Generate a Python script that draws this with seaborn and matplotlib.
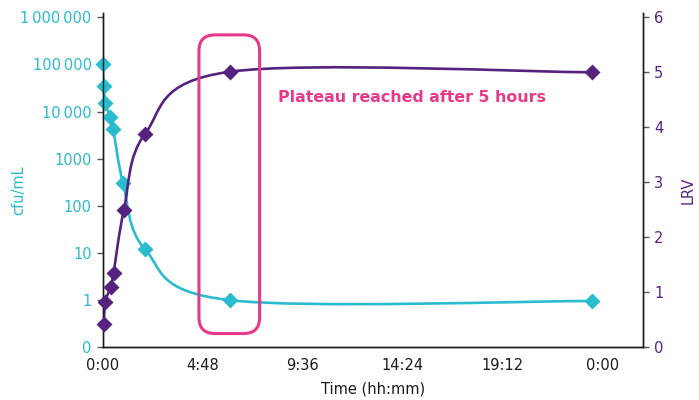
import numpy as np
import pandas as pd
import matplotlib
matplotlib.use("Agg")
import matplotlib.pyplot as plt
import seaborn as sns
from matplotlib.path import Path
from matplotlib.patches import PathPatch, FancyBboxPatch
from matplotlib.ticker import FixedLocator, FixedFormatter

# ---------------- data ----------------
time_cfu_h = [0.0, 0.05, 0.125, 0.36, 0.50, 0.98, 2.03, 6.10, 23.47]
cfu_per_ml = [100000, 35000, 15000, 7800, 4300, 300, 12, 1.0, 0.96]
time_lrv_h = [0.05, 0.125, 0.39, 0.52, 1.02, 2.03, 6.10, 23.47]
lrv_values = [0.42, 0.83, 1.10, 1.35, 2.50, 3.88, 5.01, 5.00]

cfu_ticks = [0.1, 1, 10, 100, 1000, 10000, 100000, 1000000]
cfu_tick_labels = ["0", "1", "10", "100", "1000", "10\u2009000", "100\u2009000", "1\u2009000\u2009000"]
lrv_ticks = [0, 1, 2, 3, 4, 5, 6]
time_ticks_h = [0, 4.8, 9.6, 14.4, 19.2, 24.0]

annotation_text = "Plateau reached after 5 hours"

CYAN = "#2BBBCE"
PURPLE = "#55227F"
PINK = "#E8388A"
DARK = "#1a1a1a"

sns.set_style("white")
plt.rcParams["font.family"] = ["DejaVu Sans"]

fig = plt.figure(figsize=(6.99, 4.0), dpi=100)
ax = fig.add_axes([102.7 / 699, (400 - 347.3) / 400, (643 - 102.7) / 699, (347.3 - 13) / 400])
ax2 = ax.twinx()


def smooth_path(xs, ys):
    """Catmull-Rom style Bezier path (Excel-like smoothed line) through points."""
    pts = np.column_stack([xs, ys]).astype(float)
    n = len(pts)
    verts = [pts[0]]
    codes = [Path.MOVETO]
    for i in range(n - 1):
        p0 = pts[i - 1] if i > 0 else pts[i]
        p1 = pts[i]
        p2 = pts[i + 1]
        p3 = pts[i + 2] if i + 2 < n else pts[i + 1]
        c1 = p1 + (p2 - p0) / 6.0
        c2 = p2 - (p3 - p1) / 6.0
        verts += [c1, c2, p2]
        codes += [Path.CURVE4] * 3
    return np.array(verts), codes


# cyan curve (smooth in log space)
v, c = smooth_path(time_cfu_h, np.log10(cfu_per_ml))
v[:, 1] = 10 ** v[:, 1]
ax.add_patch(PathPatch(Path(v, c), fill=False, edgecolor=CYAN, lw=1.9, zorder=2, capstyle="round"))

df_cfu = pd.DataFrame({"t": time_cfu_h, "cfu": cfu_per_ml})
sns.scatterplot(data=df_cfu, x="t", y="cfu", ax=ax, marker="D", s=66, color=CYAN,
                linewidth=0, zorder=3, clip_on=False)

# purple curve
v2, c2 = smooth_path(time_lrv_h, lrv_values)
ax2.add_patch(PathPatch(Path(v2, c2), fill=False, edgecolor=PURPLE, lw=1.9, zorder=2, capstyle="round"))
df_lrv = pd.DataFrame({"t": time_lrv_h, "lrv": lrv_values})
sns.scatterplot(data=df_lrv, x="t", y="lrv", ax=ax2, marker="D", s=66, color=PURPLE,
                linewidth=0, zorder=3, clip_on=False)

# ---- axes setup ----
ax.set_yscale("log")
ax.set_xlim(0, 25.93)
ax.set_ylim(0.1, 10 ** 6.091)
ax2.set_ylim(0, 6.078)

ax.yaxis.set_major_locator(FixedLocator(cfu_ticks))
ax.yaxis.set_major_formatter(FixedFormatter(cfu_tick_labels))
ax.yaxis.set_minor_locator(FixedLocator([]))
ax2.set_yticks(lrv_ticks)
ax2.set_yticklabels([str(t) for t in lrv_ticks])


def hhmm(h):
    hh = int(np.floor(h + 1e-9)) % 24
    mm = int(round((h - np.floor(h + 1e-9)) * 60))
    return f"{hh}:{mm:02d}"


ax.set_xticks(time_ticks_h)
ax.set_xticklabels([hhmm(h) for h in time_ticks_h])

for a in (ax, ax2):
    for s in a.spines.values():
        s.set_color(DARK)
        s.set_linewidth(1.0)
    a.spines["top"].set_visible(False)
    a.grid(False)

ax.tick_params(axis="x", length=0, pad=8, labelsize=10.5, labelcolor=DARK)
ax.tick_params(axis="y", which="major", direction="out", length=4, width=1, color="#555555",
               pad=4, labelsize=10.5, labelcolor=CYAN, left=True)
ax2.tick_params(axis="y", direction="out", length=4, width=1, color="#555555",
                pad=4, labelsize=10.5, labelcolor=PURPLE, right=True)

ax.set_xlabel("Time (hh:mm)", fontsize=10.5, color=DARK, labelpad=6)
ax.set_ylabel("cfu/mL", fontsize=10.5, color=CYAN)
ax.yaxis.set_label_coords(-0.142, 0.47)
ax2.set_ylabel("LRV", fontsize=10.5, color=PURPLE)
ax2.yaxis.set_label_coords(1.069, 0.47)
ax2.set_xlabel("")

ax.set_zorder(1)
ax2.set_zorder(2)
ax.patch.set_visible(True)
ax2.patch.set_visible(False)

# ---- highlight box & annotation ----
box_t = (4.62, 7.53)
box_lrv = (0.25, 5.68)
fig.canvas.draw()
(x0, y0) = ax2.transData.transform((box_t[0], box_lrv[0]))
(x1, y1) = ax2.transData.transform((box_t[1], box_lrv[1]))
rad = 16
box = FancyBboxPatch((x0 + rad, y0 + rad), (x1 - x0) - 2 * rad, (y1 - y0) - 2 * rad,
                     boxstyle=f"round,pad={rad},rounding_size={rad}",
                     transform=None, fill=False, edgecolor=PINK, lw=2.2, zorder=5)
fig.add_artist(box)

ax2.text(8.43, 4.54, annotation_text, color=PINK, fontsize=11.4, fontweight="bold",
         ha="left", va="center", zorder=6)

fig.savefig("out.png", dpi=100)
